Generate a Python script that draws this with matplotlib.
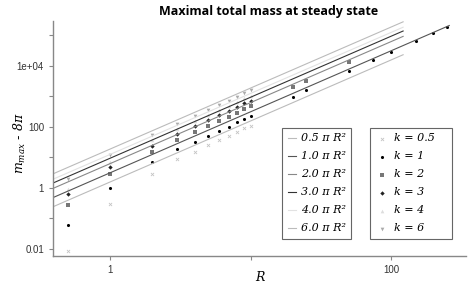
import matplotlib.pyplot as plt
import numpy as np

# prefactors of the c*pi*R^2 reference lines
line_c = [0.5, 1.0, 2.0, 3.0, 4.0, 6.0]
line_colors = ['#bbbbbb', '#555555', '#888888', '#333333', '#e2e2e2', '#bbbbbb']

# radii where all k were computed
R_small = [0.5, 1, 2, 3, 4, 5, 6, 7, 8, 9, 10]

# m_max - 8pi
m_k05 = [0.0085, 0.30, 2.9, 9.0, 15, 26, 37, 50, 69, 93, 108]
m_k3 = [0.63, 4.9, 24, 59, 108, 170, 247, 333, 453, 613, 713]
m_k4 = [0.93, 7.1, 37, 87, 158, 250, 360, 490, 660, 890, 1070]
m_k6 = [1.97, 12, 55, 126, 229, 363, 525, 713, 960, 1300, 1630]

R_k1 = [0.5, 1, 2, 3, 4, 5, 6, 7, 8, 9, 10, 20, 25, 50, 75, 100, 150, 200, 250]
m_k1 = [0.062, 1.0, 7.1, 19, 32, 50, 74, 100, 146, 183, 229,
        960, 1630, 6900, 15800, 28700, 66000, 120000, 190000]

R_k2 = [0.5, 1, 2, 3, 4, 5, 6, 7, 8, 9, 10, 20, 25, 50]
m_k2 = [0.27, 2.9, 15, 37, 69, 108, 157, 213, 288, 389, 490, 2050, 3220, 13500]

plt.rcParams['mathtext.fontset'] = 'custom'
plt.rcParams['mathtext.it'] = 'DejaVu Serif:italic'
plt.rcParams['mathtext.rm'] = 'DejaVu Serif:italic'

fig = plt.figure(figsize=(4.68, 2.89), dpi=100)
ax = fig.add_axes([53/468, 1 - 256/289, 413/468, 235/289])

line_handles = []
for c, col in zip(line_c, line_colors):
    r_end = 260 if c == 1.0 else 122
    rr = np.array([0.39, r_end])
    h, = ax.plot(rr, c * np.pi * rr**2, color=col, lw=0.8,
                 label=f"{c:.1f} π R²")
    line_handles.append(h)

pt_handles = []
pt_handles.append(ax.scatter(R_small, m_k05, marker='x', s=5, lw=0.6,
                             color='#c4c4c4', label='k = 0.5'))
pt_handles.append(ax.scatter(R_k1, m_k1, marker='o', s=5, color='black',
                             lw=0, label='k = 1'))
pt_handles.append(ax.scatter(R_k2, m_k2, marker='s', s=9, color='#777777',
                             lw=0, label='k = 2'))
pt_handles.append(ax.scatter(R_small, m_k3, marker='D', s=5, color='#222222',
                             lw=0, label='k = 3'))
pt_handles.append(ax.scatter(R_small, m_k4, marker='^', s=7, color='#dddddd',
                             lw=0, label='k = 4'))
pt_handles.append(ax.scatter(R_small, m_k6, marker='v', s=7, color='#aaaaaa',
                             lw=0, label='k = 6'))

ax.set_xscale('log')
ax.set_yscale('log')
ax.set_xlim(10**-0.406, 10**2.534)
ax.set_ylim(10**-2.23, 10**5.475)

ax.set_xticks([1, 10, 100])
ax.set_xticklabels(['1', '', '100'])
ax.set_yticks([1e-2, 1e-1, 1, 10, 100, 1e3, 1e4, 1e5])
ax.set_yticklabels(['0.01', '', '1', '', '100', '', '1e+04', ''])
ax.minorticks_off()
ax.tick_params(labelsize=7, colors='#888888', labelcolor='#333333',
               length=3, width=0.8)
for lab in ax.get_xticklabels() + ax.get_yticklabels():
    lab.set_family('Liberation Sans')

for s in ['top', 'right']:
    ax.spines[s].set_visible(False)
for s in ['left', 'bottom']:
    ax.spines[s].set_color('#888888')
    ax.spines[s].set_linewidth(1.0)

ax.set_xlabel('R', fontsize=9, family='DejaVu Serif', style='italic')
ax.set_ylabel(r'$m_{max}$ - $8\pi$', fontsize=9)
ax.xaxis.set_label_coords(0.5, -0.065)
ax.yaxis.set_label_coords(-0.06, 0.48)

fig.text(269/468, 1 - 12/289, 'Maximal total mass at steady state',
         ha='center', va='center', fontsize=9, fontweight='bold',
         family='Open Sans')

leg_font = {'family': 'DejaVu Serif', 'style': 'italic', 'size': 8}
leg1 = ax.legend(handles=line_handles, loc='lower left',
                 bbox_to_anchor=(0.5545, 0.0723, 0.167, 0.4), mode='expand',
                 borderaxespad=0, prop=leg_font, handlelength=0.8,
                 handletextpad=0.4, labelspacing=0.72, fancybox=False,
                 edgecolor='#666666', framealpha=1, borderpad=0.5)
leg1.get_frame().set_linewidth(0.8)
ax.add_artist(leg1)
leg2 = ax.legend(handles=pt_handles, loc='lower left',
                 bbox_to_anchor=(0.7676, 0.0723, 0.1985, 0.4), mode='expand',
                 borderaxespad=0, prop=leg_font, handlelength=1.2,
                 handletextpad=0.5, labelspacing=0.72, fancybox=False,
                 edgecolor='#666666', framealpha=1, borderpad=0.5)
leg2.get_frame().set_linewidth(0.8)

fig.savefig('out.png', dpi=100)
